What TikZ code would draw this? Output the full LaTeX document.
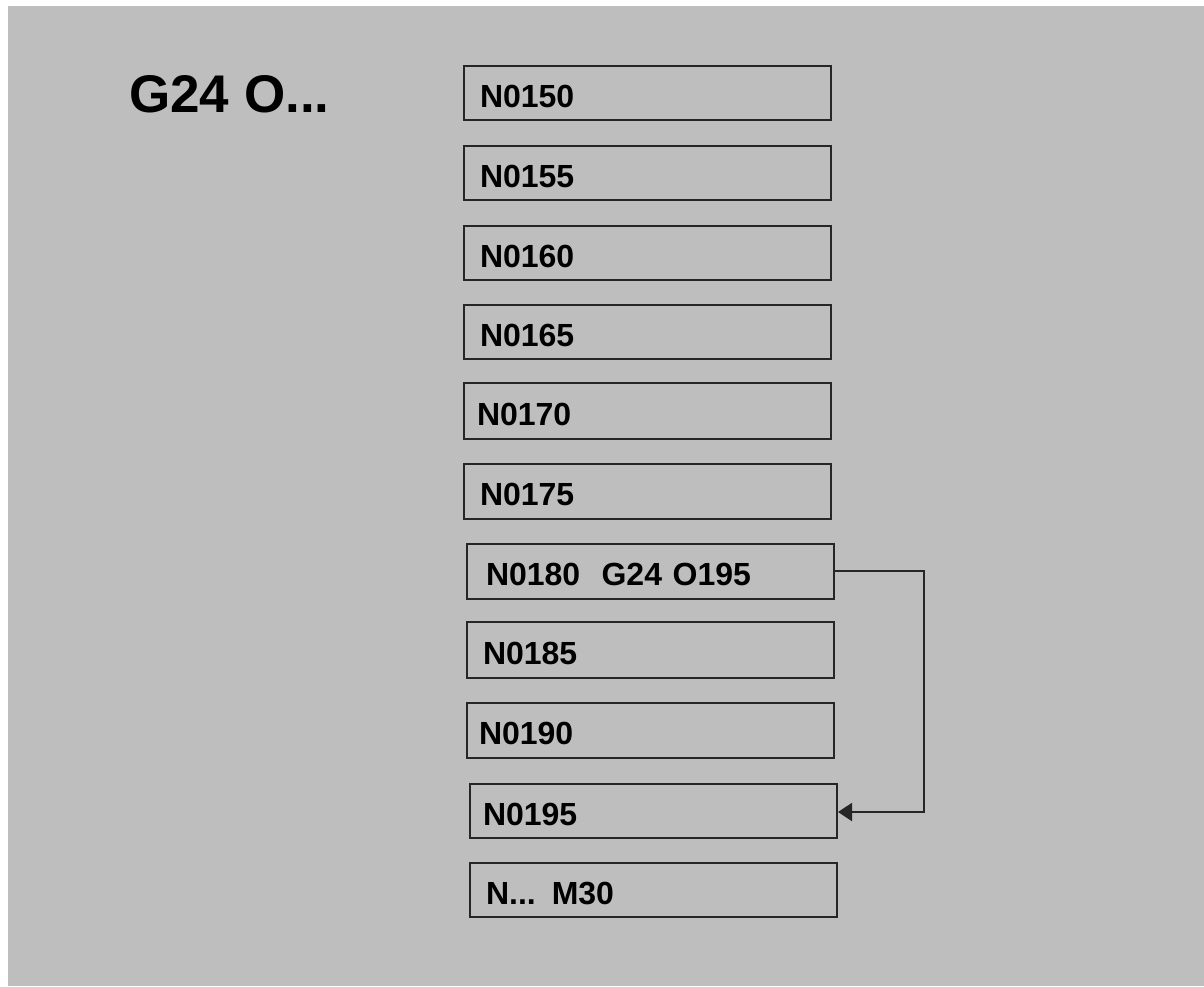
\documentclass[tikz,border=0pt]{standalone}
\usepackage{fontspec}
\setmainfont{Liberation Sans}
\usetikzlibrary{arrows.meta}
\tikzset{
  blk/.style={draw=black!85, line width=2pt, rectangle, minimum width=367pt, minimum height=54pt,
    text width=335pt, inner xsep=16pt, text height=28pt, text depth=0pt, align=left,
    font=\bfseries\fontsize{32}{32}\selectfont, anchor=north west},
  conn/.style={draw=black!85, line width=2pt, -{Triangle[length=14pt,width=18pt]}}
}
\begin{document}
\begin{tikzpicture}[x=1pt,y=-1pt]
\useasboundingbox (0,0) rectangle (1204,986);
\fill[white] (0,0) rectangle (1204,986);
\fill[fill={rgb,255:red,190;green,190;blue,190}] (8,6) rectangle (1204,986);
\node[anchor=base west, inner sep=0pt, font=\bfseries\fontsize{53}{53}\selectfont] (title) at (129,112) {G24 O...};
\node[blk] (n150) at (463,65) {N0150};
\node[blk] (n155) at (463,145) {N0155};
\node[blk] (n160) at (463,225) {N0160};
\node[blk] (n165) at (463,304) {N0165};
\node[blk, minimum height=56pt, inner xsep=13pt, text width=341pt] (n170) at (463,382) {N0170};
\node[blk, minimum height=55pt] (n175) at (463,463) {N0175};
\node[blk, minimum height=55pt, inner xsep=19pt, text width=329pt] (n180) at (466,543) {N0180\ \ G24 O195};
\node[blk, minimum height=56pt] (n185) at (466,621) {N0185};
\node[blk, minimum height=55pt, inner xsep=12pt, text width=343pt] (n190) at (466,702) {N0190};
\node[blk, inner xsep=13pt, text width=341pt] (n195) at (469,783) {N0195};
\node[blk] (nend) at (469,862) {N... M30};
\coordinate (c1) at (924,571);
\coordinate (c2) at (924,812);
\draw[conn] (n180.east |- c1) -- (c1) -- (c2) -- (n195.east |- c2);
\end{tikzpicture}
\end{document}
